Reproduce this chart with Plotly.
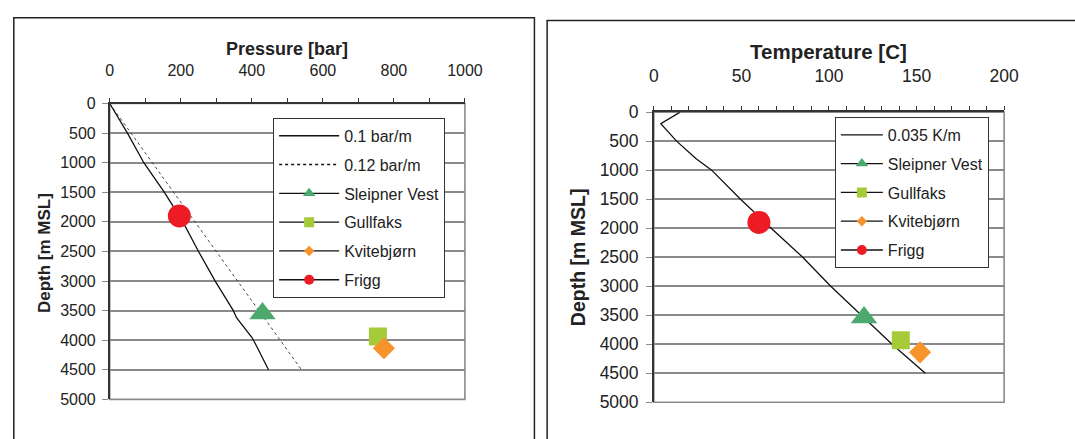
import plotly.graph_objects as go

W, H = 1075, 439

# ---------------- data ----------------
# Pressure panel
p_line01_bar = [0, 50, 96, 154, 206, 250, 297, 348, 357, 400, 410, 447]
p_line01_depth = [0, 500, 1000, 1500, 2000, 2500, 3000, 3500, 3620, 3950, 4060, 4500]
p_line012_bar = [0, 240, 540]
p_line012_depth = [0, 2000, 4500]

fields = ["Sleipner Vest", "Gullfaks", "Kvitebjørn", "Frigg"]
field_pressure = [430, 755, 772, 196]
field_depth_p = [3550, 3935, 4135, 1900]

# Temperature panel
t_line_temp = [15, 4, 13, 24, 33, 49.5, 67, 85, 101, 118.5, 136, 155]
t_line_depth = [0, 200, 500, 800, 1000, 1500, 2000, 2500, 3000, 3500, 4000, 4500]
field_temp = [120, 141, 152, 60]
field_depth_t = [3540, 3930, 4140, 1900]

field_colors = ["#4DAA6E", "#A6CB3A", "#F7932B", "#ED1C24"]
field_symbols = ["triangle-up", "square", "diamond", "circle"]
field_sizes = [23, 18, 17, 23]
legend_marker_sizes = [11, 10, 8, 10]

FONT = "Liberation Sans, Arial, sans-serif"
GRID = "#8a8a8a"
AX = "#333333"
LINE_W = 1.3

fig = go.Figure()

# ---- plotted marks (legend handled by proxy entries) ----
fig.add_trace(go.Scatter(x=p_line01_bar, y=p_line01_depth, mode="lines",
                         line=dict(color="#111111", width=LINE_W), showlegend=False,
                         xaxis="x", yaxis="y"))
fig.add_trace(go.Scatter(x=p_line012_bar, y=p_line012_depth, mode="lines",
                         line=dict(color="#333333", width=0.9, dash="3px,3px"), showlegend=False,
                         xaxis="x", yaxis="y"))
for i, f in enumerate(fields):
    fig.add_trace(go.Scatter(x=[field_pressure[i]], y=[field_depth_p[i]], mode="markers",
                             marker=dict(symbol=field_symbols[i], size=field_sizes[i],
                                         color=field_colors[i], line=dict(width=0)),
                             name=f, showlegend=False, xaxis="x", yaxis="y"))
fig.add_trace(go.Scatter(x=t_line_temp, y=t_line_depth, mode="lines",
                         line=dict(color="#111111", width=LINE_W), showlegend=False,
                         xaxis="x2", yaxis="y2"))
for i, f in enumerate(fields):
    fig.add_trace(go.Scatter(x=[field_temp[i]], y=[field_depth_t[i]], mode="markers",
                             marker=dict(symbol=field_symbols[i], size=field_sizes[i],
                                         color=field_colors[i], line=dict(width=0)),
                             name=f, showlegend=False, xaxis="x2", yaxis="y2"))

# ---- legend entries ----
def legend_entry(name, legend, group, axes, dash="solid", color="#111111", width=LINE_W, mk=None):
    xa, ya = axes
    kw = dict(x=[None], y=[None], name=name, legend=legend, legendgroup=group,
              line=dict(color=color, width=width, dash=dash), xaxis=xa, yaxis=ya, showlegend=True)
    if mk is None:
        kw["mode"] = "lines"
    else:
        kw["mode"] = "lines+markers"
        kw["marker"] = mk
    fig.add_trace(go.Scatter(**kw))

legend_entry("0.1 bar/m", "legend", "a", ("x", "y"))
legend_entry("0.12 bar/m", "legend", "b", ("x", "y"), dash="3px,3px", width=1.5)
for i, f in enumerate(fields):
    legend_entry(f, "legend", "p" + str(i), ("x", "y"),
                 mk=dict(symbol=field_symbols[i], size=legend_marker_sizes[i],
                         color=field_colors[i], line=dict(width=0)))
legend_entry("0.035 K/m", "legend2", "t", ("x2", "y2"))
for i, f in enumerate(fields):
    legend_entry(f, "legend2", "q" + str(i), ("x2", "y2"),
                 mk=dict(symbol=field_symbols[i], size=legend_marker_sizes[i],
                         color=field_colors[i], line=dict(width=0)))

def xd(a, b):
    return [a / W, b / W]

def yd(top, bot):
    return [1 - bot / H, 1 - top / H]

xaxis_common = dict(side="top", showgrid=False, showline=True, linecolor=AX, linewidth=1.5,
                    ticks="outside", ticklen=4, tickcolor=AX, mirror=False, zeroline=False,
                    fixedrange=True)
yaxis_common = dict(autorange=False, showgrid=True, gridcolor=GRID, gridwidth=1.6,
                    showline=True, linecolor=AX, linewidth=1.5, ticks="outside", ticklen=6,
                    tickcolor=GRID, zeroline=False, dtick=500, tick0=0, fixedrange=True)

legend_common = dict(xanchor="left", yanchor="top", bgcolor="white", bordercolor=AX, borderwidth=1,
                     font=dict(size=16, family=FONT, color="#222222"),
                     itemsizing="trace", tracegroupgap=5, traceorder="grouped")

fig.update_layout(
    width=W, height=H, margin=dict(l=0, r=0, t=0, b=0),
    paper_bgcolor="white", plot_bgcolor="white",
    font=dict(family=FONT, color="#222222"),
    xaxis=dict(domain=xd(107, 470), range=[0, 1000], dtick=200, anchor="y",
               tickfont=dict(size=16), ticklabelstandoff=15,
               minor=dict(dtick=100, ticks="outside", ticklen=4, tickcolor=AX), **xaxis_common),
    yaxis=dict(domain=yd(98, 408), range=[5000, 0], anchor="x",
               tickfont=dict(size=16), ticklabelstandoff=3, **yaxis_common),
    xaxis2=dict(domain=xd(663, 1021), range=[0, 200], dtick=50, anchor="y2",
                tickfont=dict(size=17.5), ticklabelstandoff=17,
                minor=dict(dtick=10, ticks="outside", ticklen=4, tickcolor=AX), **xaxis_common),
    yaxis2=dict(domain=yd(107, 411), range=[5000, 0], anchor="x2",
                tickfont=dict(size=17.5), ticklabelstandoff=4, **yaxis_common),
    legend=dict(x=274 / W, y=1 - 113 / H, itemwidth=60, **legend_common),
    legend2=dict(x=848 / W, y=1 - 112 / H, itemwidth=42, **legend_common),
)

fig.add_shape(type="rect", xref="paper", yref="paper", x0=9 / W, x1=541 / W,
              y0=-0.05, y1=1 - 8 / H, line=dict(color="#222222", width=1.5), layer="below")
fig.add_shape(type="rect", xref="paper", yref="paper", x0=554 / W, x1=1.05,
              y0=-0.05, y1=1 - 11 / H, line=dict(color="#222222", width=1.5), layer="below")
fig.add_shape(type="rect", xref="x domain", yref="y domain", x0=0, x1=1, y0=0, y1=1,
              line=dict(color=GRID, width=1.6), layer="below")
fig.add_shape(type="rect", xref="x2 domain", yref="y2 domain", x0=0, x1=1, y0=0, y1=1,
              line=dict(color=GRID, width=1.6), layer="below")

fig.add_annotation(text="<b>Pressure [bar]</b>", xref="paper", yref="paper",
                   x=288.5 / W, y=1 - 40.5 / H, showarrow=False, xanchor="center", yanchor="middle",
                   font=dict(size=18, family=FONT, color="#222222"))
fig.add_annotation(text="<b>Temperature [C]</b>", xref="paper", yref="paper",
                   x=842 / W, y=1 - 43 / H, showarrow=False, xanchor="center", yanchor="middle",
                   font=dict(size=20.5, family=FONT, color="#222222"))
fig.add_annotation(text="<b>Depth [m MSL]</b>", xref="paper", yref="paper",
                   x=40.5 / W, y=1 - 255 / H, showarrow=False, textangle=-90,
                   xanchor="center", yanchor="middle",
                   font=dict(size=17, family=FONT, color="#222222"))
fig.add_annotation(text="<b>Depth [m MSL]</b>", xref="paper", yref="paper",
                   x=585.5 / W, y=1 - 259 / H, showarrow=False, textangle=-90,
                   xanchor="center", yanchor="middle",
                   font=dict(size=19.5, family=FONT, color="#222222"))

fig.write_html("out.html")
